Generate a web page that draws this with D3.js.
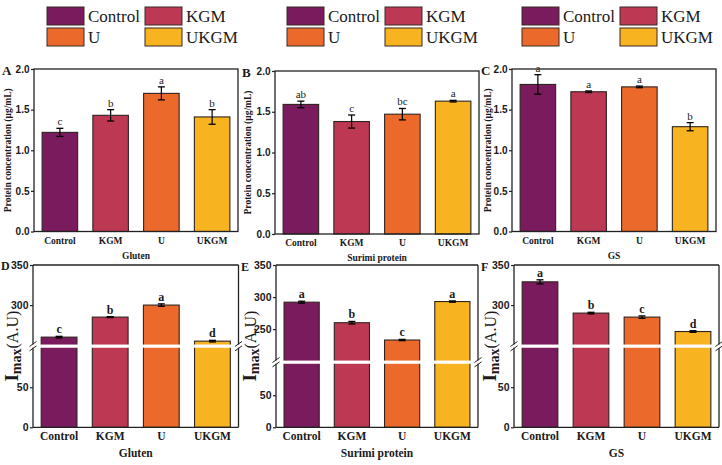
<!DOCTYPE html>
<html><head><meta charset="utf-8">
<script src="https://cdn.jsdelivr.net/npm/d3@7"></script>
<style>body{margin:0;background:#fff}svg{display:block;font-family:"Liberation Serif","Times New Roman",serif}</style>
</head><body><svg id="c" width="722" height="465"></svg>
<script>
const categories = ["Control","KGM","U","UKGM"];
const barColors = ["#7a1b5e","#bd3953","#eb6a2b","#f8b321"];
const groups = ["Gluten","Surimi protein","GS"];
const panelLetters = ["A","B","C","D","E","F"];

const proteinGluten = [1.22,1.43,1.70,1.41];
const proteinGlutenErr = [0.05,0.07,0.08,0.09];
const proteinGlutenSig = ["c","b","a","b"];
const proteinSurimi = [1.59,1.38,1.47,1.63];
const proteinSurimiErr = [0.04,0.08,0.07,0.01];
const proteinSurimiSig = ["ab","c","bc","a"];
const proteinGS = [1.81,1.72,1.78,1.29];
const proteinGSErr = [0.12,0.01,0.01,0.05];
const proteinGSSig = ["a","a","a","b"];
const proteinTicks = [0,0.5,1.0,1.5,2.0];

const imaxGluten = [260,285,300,255];
const imaxGlutenErr = [1,0.6,1.5,1];
const imaxGlutenSig = ["c","b","a","d"];
const imaxSurimi = [292,260,233,293];
const imaxSurimiErr = [1.5,2,1,1];
const imaxSurimiSig = ["a","b","c","a"];
const imaxGS = [329,290,285,267];
const imaxGSErr = [2.5,1,1.5,1];
const imaxGSSig = ["a","b","c","d"];
const imaxTicksGluten = [0,50,300,350];
const imaxTicksSurimi = [0,50,250,300,350];
const imaxTicksGS = [0,50,300,350];
const breakGluten = [100,250];
const breakSurimi = [100,200];
const breakGS = [100,250];

const svg = d3.select("#c");
const INK = "#1a1a1a";

const legendX = [47,287,522];
legendX.forEach(lx=>{
  const g = svg.append("g").attr("transform",`translate(${lx},7)`);
  categories.forEach((c,i)=>{
    const col = i%2, row = Math.floor(i/2);
    const x = col*98, y = row*21;
    g.append("rect").attr("x",x).attr("y",y).attr("width",37).attr("height",18)
      .attr("fill",barColors[i]).attr("stroke","#3a2a25").attr("stroke-width",1);
    g.append("text").attr("x",x+41).attr("y",y+15).attr("font-size",17).attr("fill",INK).text(c);
  });
});

function drawPanel(opt){
  const {left,right,top,bottom,values,errs,sig,group,letter,top_:isTop} = opt;
  const g = svg.append("g");
  const x = d3.scaleBand().domain(categories).range([left,right]).paddingInner(0.3).paddingOuter(0.16);
  const y = opt.y;
  const y0 = y(0);
  g.selectAll("rect.bar").data(values).join("rect")
    .attr("x",(d,i)=>x(categories[i])).attr("width",x.bandwidth())
    .attr("y",d=>y(d)).attr("height",d=>y0-y(d))
    .attr("fill",(d,i)=>barColors[i]).attr("stroke","#2e2320").attr("stroke-width",1.1);
  values.forEach((v,i)=>{
    const cx = x(categories[i])+x.bandwidth()/2;
    const ya = y(v+errs[i]), yb = y(v-errs[i]);
    g.append("line").attr("x1",cx).attr("x2",cx).attr("y1",ya).attr("y2",yb).attr("stroke","#000").attr("stroke-width",1.2);
    [ya,yb].forEach(yy=>g.append("line").attr("x1",cx-3.5).attr("x2",cx+3.5).attr("y1",yy).attr("y2",yy).attr("stroke","#000").attr("stroke-width",1.3));
    g.append("text").attr("x",cx).attr("y",ya-3).attr("text-anchor","middle")
      .attr("font-size",isTop?11:12).attr("font-weight",isTop?"normal":"bold").attr("fill",INK).text(sig[i]);
  });
  if(opt.brk){
    const yb = opt.brkY;
    g.append("rect").attr("x",left-8).attr("y",yb-1.6).attr("width",right-left+16).attr("height",3.2).attr("fill","#fff");
  }
  const frame = g.append("g").attr("stroke","#222").attr("stroke-width",1.3).attr("fill","none");
  if(opt.brk){
    const yb = opt.brkY;
    [[left,top,left,yb-1.6],[left,yb+1.6,left,bottom],[right,top,right,yb-1.6],[right,yb+1.6,right,bottom]]
      .forEach(s=>frame.append("line").attr("x1",s[0]).attr("y1",s[1]).attr("x2",s[2]).attr("y2",s[3]));
    [left,right].forEach(xx=>{
      [-2.2,2.2].forEach(o=>frame.append("line").attr("x1",xx-3.5).attr("y1",yb+o+2.5).attr("x2",xx+3.5).attr("y2",yb+o-2.5).attr("stroke-width",1));
    });
    frame.append("line").attr("x1",left).attr("x2",right).attr("y1",top).attr("y2",top);
    frame.append("line").attr("x1",left).attr("x2",right).attr("y1",bottom).attr("y2",bottom);
  } else {
    frame.append("rect").attr("x",left).attr("y",top).attr("width",right-left).attr("height",bottom-top);
  }
  const ax = d3.axisLeft(y).tickValues(opt.ticks).tickSize(3).tickPadding(1.5)
    .tickFormat(isTop?d3.format(".1f"):d3.format("d"));
  const ag = g.append("g").attr("transform",`translate(${left},0)`).call(ax);
  ag.select(".domain").remove();
  ag.selectAll("line").attr("stroke","#222").attr("stroke-width",1.2);
  ag.selectAll("text").attr("font-family",null).attr("font-weight","bold")
    .attr("font-size",isTop?10:10.5).attr("fill",INK);
  categories.forEach((c,i)=>{
    g.append("text").attr("x",x(c)+x.bandwidth()/2).attr("y",bottom+(isTop?12:13)).attr("text-anchor","middle")
      .attr("font-weight","bold").attr("font-size",isTop?9.5:11.5).attr("fill",INK).text(c);
  });
  g.append("text").attr("x",(left+right)/2).attr("y",bottom+(isTop?27:30)).attr("text-anchor","middle")
    .attr("font-weight","bold").attr("font-size",isTop?9.5:11.5).attr("fill",INK).text(group);
  g.append("text").attr("x",opt.letterX).attr("y",opt.letterY).attr("font-weight","bold").attr("font-size",isTop?13:12).attr("fill",INK).text(letter);
  const cy = (top+bottom)/2;
  if(isTop){
    g.append("text").attr("transform",`translate(${opt.labelX},${cy}) rotate(-90)`).attr("text-anchor","middle")
      .attr("font-weight","bold").attr("font-size",9.5).attr("fill",INK).text("Protein concentration (μg/mL)");
  } else {
    const t = g.append("text").attr("transform",`translate(${opt.labelX},${cy}) rotate(-90)`).attr("text-anchor","middle").attr("fill",INK);
    t.append("tspan").attr("font-weight","bold").attr("font-size",19).text("I");
    t.append("tspan").attr("font-weight","bold").attr("font-size",14).attr("dy",3).text("max");
    t.append("tspan").attr("font-size",16).attr("dy",-3).text("(A.U)");
  }
}

const topBoxes = [
  {left:34,right:238,top:69,bottom:231.5,letterX:2,letterY:75,labelX:11},
  {left:275,right:479,top:71,bottom:234,letterX:242,letterY:77,labelX:251},
  {left:512,right:716,top:69,bottom:231.5,letterX:481,letterY:75,labelX:491}
];
const topVals = [proteinGluten,proteinSurimi,proteinGS];
const topErrs = [proteinGlutenErr,proteinSurimiErr,proteinGSErr];
const topSig = [proteinGlutenSig,proteinSurimiSig,proteinGSSig];
topBoxes.forEach((b,k)=>{
  const y = d3.scaleLinear().domain([0,2]).range([b.bottom,b.top]);
  drawPanel(Object.assign({},b,{values:topVals[k],errs:topErrs[k],sig:topSig[k],group:groups[k],letter:panelLetters[k],top_:true,y,ticks:proteinTicks}));
});

const botBoxes = [
  {left:33,right:238.5,top:265,bottom:427.3,letterX:1,letterY:270,labelX:18},
  {left:276,right:478,top:265,bottom:427.3,letterX:241,letterY:271,labelX:256},
  {left:514,right:719,top:265,bottom:427.3,letterX:481,letterY:271,labelX:496}
];
const botVals = [imaxGluten,imaxSurimi,imaxGS];
const botErrs = [imaxGlutenErr,imaxSurimiErr,imaxGSErr];
const botSig = [imaxGlutenSig,imaxSurimiSig,imaxGSSig];
const botTicks = [imaxTicksGluten,imaxTicksSurimi,imaxTicksGS];
const botBreaks = [breakGluten,breakSurimi,breakGS];
botBoxes.forEach((b,k)=>{
  const [lo,hi] = botBreaks[k];
  const total = lo + (350-hi);
  const h = b.bottom-b.top-2;
  const yLoTop = b.bottom - h*lo/total;
  const yHiBot = yLoTop - 2;
  const y = d3.scaleLinear().domain([0,lo,hi,350]).range([b.bottom,yLoTop,yHiBot,b.top]);
  drawPanel(Object.assign({},b,{values:botVals[k],errs:botErrs[k],sig:botSig[k],group:groups[k],letter:panelLetters[k+3],top_:false,y,ticks:botTicks[k],brk:true,brkY:yLoTop-1}));
});
</script></body></html>
